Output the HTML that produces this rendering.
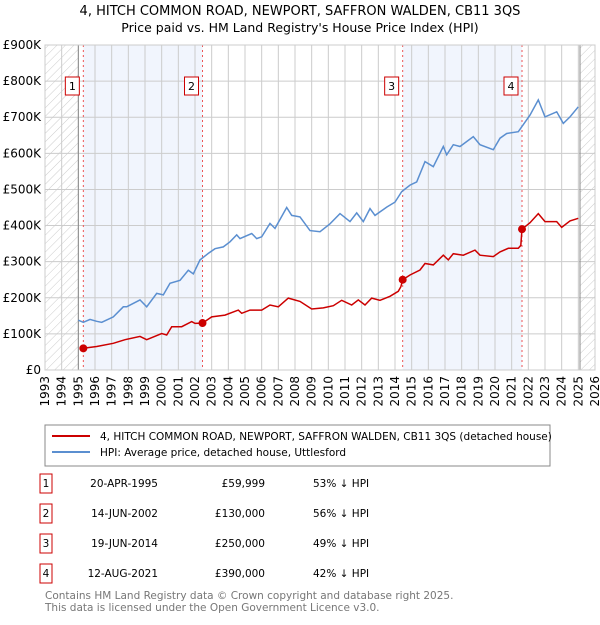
<!DOCTYPE html>
<html><head><meta charset="utf-8"><style>
body{margin:0;background:#fff;font-family:"Liberation Sans","DejaVu Sans",sans-serif;}
svg text{font-family:"DejaVu Sans","Liberation Sans",sans-serif;}
</style></head><body>
<svg width="600" height="620" xmlns="http://www.w3.org/2000/svg">
<defs><pattern id="hatch" width="6" height="6" patternUnits="userSpaceOnUse" patternTransform="rotate(45)"><line x1="0" y1="0" x2="0" y2="6" stroke="#ccc" stroke-width="1"/></pattern></defs>
<text x="300" y="15" text-anchor="middle" font-size="13">4, HITCH COMMON ROAD, NEWPORT, SAFFRON WALDEN, CB11 3QS</text>
<text x="300" y="32" text-anchor="middle" font-size="12.5">Price paid vs. HM Land Registry's House Price Index (HPI)</text>
<g id="plot"></g>
<g>
<rect x="45" y="425" width="505" height="41" fill="#fff" stroke="#888"/>
<line x1="52" y1="436" x2="90" y2="436" stroke="#cc0000" stroke-width="2"/>
<text x="100" y="440" font-size="10.5">4, HITCH COMMON ROAD, NEWPORT, SAFFRON WALDEN, CB11 3QS (detached house)</text>
<line x1="52" y1="452" x2="90" y2="452" stroke="#5b8fd0" stroke-width="2"/>
<text x="100" y="456" font-size="10.5">HPI: Average price, detached house, Uttlesford</text>
</g>
<g id="table" font-size="10.5"></g>
<text x="45" y="599" font-size="10.5" fill="#777">Contains HM Land Registry data © Crown copyright and database right 2025.</text>
<text x="45" y="611" font-size="10.5" fill="#777">This data is licensed under the Open Government Licence v3.0.</text>
</svg>
<script>
const hpiYears=[1995.0,1995.3,1995.7,1996.1,1996.4,1997.1,1997.7,1997.9,1998.7,1999.1,1999.7,2000.1,2000.5,2001.1,2001.6,2001.9,2002.3,2002.8,2003.2,2003.7,2004.1,2004.5,2004.7,2005.4,2005.7,2006.0,2006.5,2006.8,2007.5,2007.8,2008.3,2008.9,2009.5,2010.1,2010.7,2011.3,2011.7,2012.1,2012.5,2012.8,2013.5,2014.0,2014.4,2014.9,2015.3,2015.8,2016.3,2016.9,2017.1,2017.5,2017.9,2018.7,2019.1,2019.9,2020.3,2020.7,2021.4,2022.1,2022.6,2023.0,2023.7,2024.1,2024.5,2025.0];
const hpiValues=[138,132,140,135,132,147,175,175,194,175,212,208,240,248,276,266,305,323,336,341,355,374,364,378,364,369,406,392,450,428,424,386,383,405,433,411,435,411,447,428,451,465,494,512,521,577,563,619,596,624,619,646,624,610,642,655,660,706,748,701,715,683,701,729];
const ppYears=[1995.3,1996.1,1997.1,1997.8,1998.7,1999.1,2000.0,2000.3,2000.6,2001.2,2001.8,2002.0,2002.45,2003.0,2003.8,2004.6,2004.8,2005.3,2006.0,2006.5,2007.0,2007.6,2008.3,2009.0,2009.7,2010.3,2010.8,2011.4,2011.8,2012.2,2012.6,2013.1,2013.7,2014.2,2014.35,2014.46,2014.9,2015.5,2015.8,2016.3,2016.9,2017.2,2017.5,2018.1,2018.8,2019.1,2019.9,2020.3,2020.8,2021.4,2021.55,2021.62,2022.1,2022.6,2023.0,2023.7,2024.0,2024.5,2025.0];
const ppValues=[60,65,74,84,93,84,101,97,120,120,134,129,130,147,152,166,157,166,166,180,175,199,190,169,172,178,193,180,194,180,199,193,204,218,230,250,263,277,295,291,318,305,322,318,332,318,314,327,337,337,345,390,408,433,411,411,395,413,420];
const saleYears=[1995.3,2002.45,2014.46,2021.62];
const saleValues=[59.999,130,250,390];
const saleLabels=["1","2","3","4"];
const saleDates=["20-APR-1995","14-JUN-2002","19-JUN-2014","12-AUG-2021"];
const salePrices=["£59,999","£130,000","£250,000","£390,000"];
const saleHpi=["53% ↓ HPI","56% ↓ HPI","49% ↓ HPI","42% ↓ HPI"];
const yTicks=[0,100,200,300,400,500,600,700,800,900];
const yTickLabels=["£0","£100K","£200K","£300K","£400K","£500K","£600K","£700K","£800K","£900K"];
const xTicks=[1993,1994,1995,1996,1997,1998,1999,2000,2001,2002,2003,2004,2005,2006,2007,2008,2009,2010,2011,2012,2013,2014,2015,2016,2017,2018,2019,2020,2021,2022,2023,2024,2025,2026];

const NS="http://www.w3.org/2000/svg";
const X0=45,X1=595,Y0=370,Y1=45;
const xs=y=>X0+(y-1993)/(2026-1993)*(X1-X0);
const ys=v=>Y0-v/900*(Y0-Y1);
const plot=document.getElementById('plot');
function mk(tag,attrs,parent){const e=document.createElementNS(NS,tag);for(const k in attrs)e.setAttribute(k,attrs[k]);(parent||plot).appendChild(e);return e;}
let e;
e=mk('rect',{x:X0,y:Y1,width:X1-X0,height:Y0-Y1,fill:'#fff'});


// shaded spans
for(let i=0;i<saleYears.length;i+=2){
 e=mk('rect',{x:xs(saleYears[i]),y:Y1,width:xs(saleYears[i+1])-xs(saleYears[i]),height:Y0-Y1,fill:'#eef3fd',opacity:0.8});
 
 
}
e=mk('rect',{x:X0,y:Y1,width:xs(1995.0)-X0,height:Y0-Y1,fill:'url(#hatch)'});


e=mk('rect',{x:xs(2025.1),y:Y1,width:X1-xs(2025.1),height:Y0-Y1,fill:'url(#hatch)'});


xTicks.forEach(t=>{
 e=mk('line',{x1:xs(t),x2:xs(t),y1:Y1,y2:Y0,stroke:'#ccc','stroke-width':1});
 
 
 e=mk('text',{x:0,y:0,'font-size':12,'text-anchor':'end',transform:`translate(${xs(t)+4},${Y0+6}) rotate(-90)`});
 e.textContent=t;
 
 
});
yTicks.forEach((t,i)=>{
 e=mk('line',{x1:X0,x2:X1,y1:ys(t),y2:ys(t),stroke:'#ccc','stroke-width':1});
 
 
 e=mk('text',{x:X0-4,y:ys(t)+4,'font-size':12,'text-anchor':'end'});
 e.textContent=yTickLabels[i];
 
 
});
e=mk('line',{x1:xs(1995.0),x2:xs(1995.0),y1:Y1,y2:Y0,stroke:'#888'});


e=mk('line',{x1:xs(2025.1),x2:xs(2025.1),y1:Y1,y2:Y0,stroke:'#888'});


saleYears.forEach((y,i)=>{
 e=mk('line',{x1:xs(y),x2:xs(y),y1:Y1,y2:Y0,stroke:'#ee5555','stroke-dasharray':'2,3'});
 
 
});
e=mk('path',{d:hpiYears.map((y,i)=>(i?'L':'M')+xs(y).toFixed(1)+','+ys(hpiValues[i]).toFixed(1)).join(''),fill:'none',stroke:'#5b8fd0','stroke-width':1.5});


e=mk('path',{d:ppYears.map((y,i)=>(i?'L':'M')+xs(y).toFixed(1)+','+ys(ppValues[i]).toFixed(1)).join(''),fill:'none',stroke:'#cc0000','stroke-width':1.5});


saleYears.forEach((y,i)=>{
 e=mk('circle',{cx:xs(y),cy:ys(saleValues[i]),r:4,fill:'#cc0000'});
 
 
 e=mk('rect',{x:xs(y)-18,y:77,width:14,height:18,fill:'#fff',stroke:'#cc0000'});
 
 
 e=mk('text',{x:xs(y)-11,y:90,'font-size':11,'text-anchor':'middle'});
 e.textContent=saleLabels[i];
 
 
});
e=mk('rect',{x:X0,y:Y1,width:X1-X0,height:Y0-Y1,fill:'none',stroke:'#ccc'});


const tb=document.getElementById('table');
const rowY=[483,513,543,573];
saleLabels.forEach((l,i)=>{
 const y=rowY[i];
 e=mk('rect',{x:40,y:y-9,width:12,height:19,fill:'#fff',stroke:'#cc0000'},tb);
 
 
 e=mk('text',{x:46,y:y+4,'text-anchor':'middle'},tb);e.textContent=l;
 
 
 e=mk('text',{x:158,y:y+4,'text-anchor':'end'},tb);e.textContent=saleDates[i];
 
 
 e=mk('text',{x:265,y:y+4,'text-anchor':'end'},tb);e.textContent=salePrices[i];
 
 
 e=mk('text',{x:313,y:y+4},tb);e.textContent=saleHpi[i];
 
 
});
</script>
</body></html>
